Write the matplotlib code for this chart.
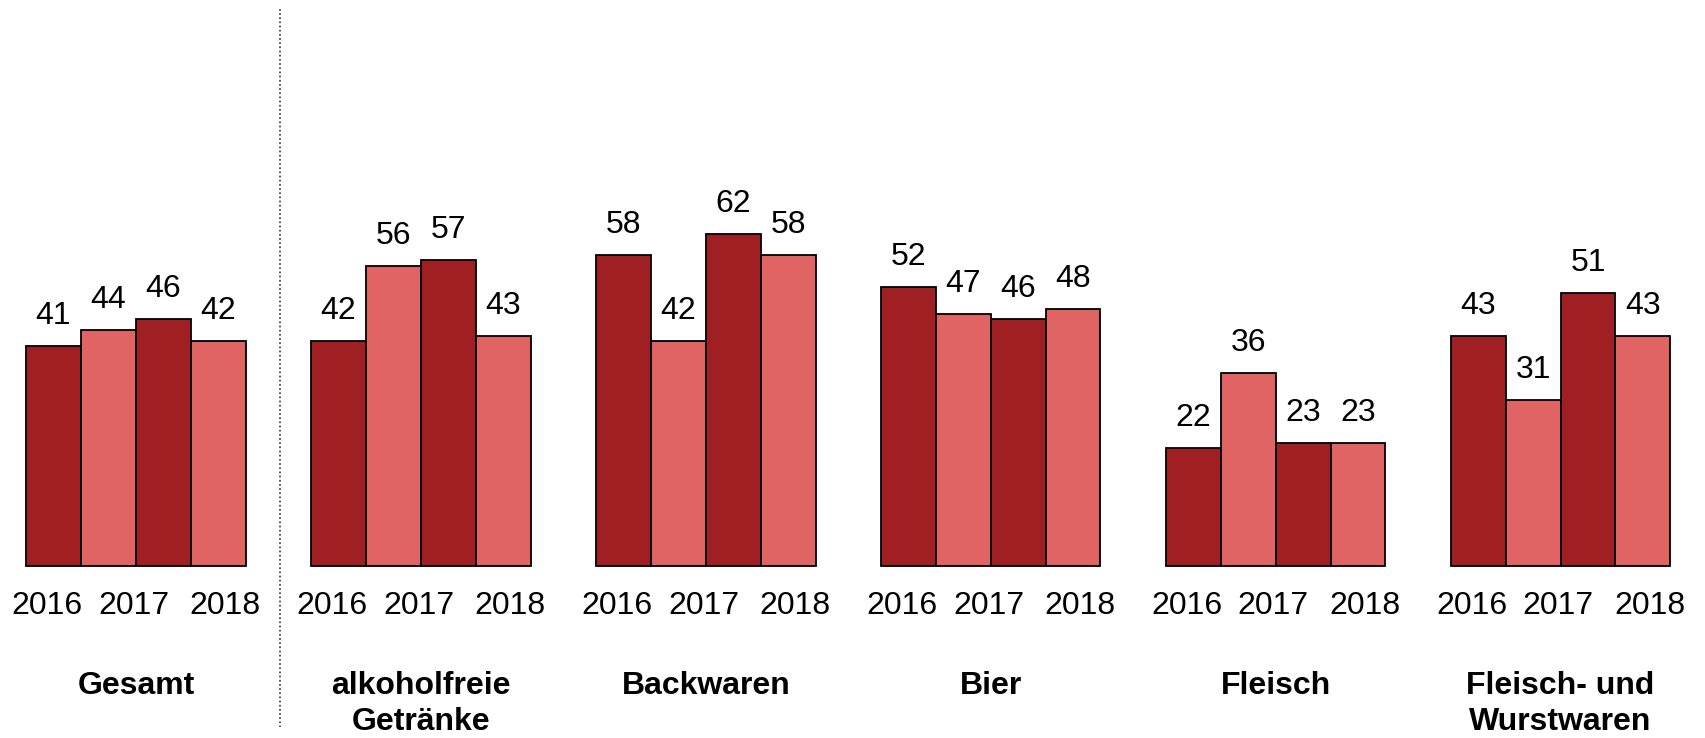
import numpy as np
import matplotlib
matplotlib.use("Agg")
import matplotlib.pyplot as plt

# Data
CATEGORIES = ["Gesamt", "alkoholfreie\nGetränke", "Backwaren", "Bier", "Fleisch",
              "Fleisch- und\nWurstwaren"]
VALUES = [
    [41, 44, 46, 42],
    [42, 56, 57, 43],
    [58, 42, 62, 58],
    [52, 47, 46, 48],
    [22, 36, 23, 23],
    [43, 31, 51, 43],
]
YEAR_LABELS = ["2016", "2017", "2018"]

DARK = "#A01F22"
LIGHT = "#E06464"
BAR_COLORS = [DARK, LIGHT, DARK, LIGHT]

# Layout (units: one bar width)
GROUP_STEP = 5.19
YEAR_POS = [-0.12, 1.46, 3.12]
PX_PER_UNIT = 54.9
PX_PER_VAL = 5.36
W, H = 1706, 738
BASE_PX = 566  # baseline from top
FS = 23

plt.rcParams['font.family'] = ['Liberation Sans', 'DejaVu Sans']

fig = plt.figure(figsize=(W / 100, H / 100), dpi=100)
ax = fig.add_axes([0, 0, 1, 1])
ax.axis('off')

x0 = -0.5 - 26.1 / PX_PER_UNIT
ax.set_xlim(x0, x0 + W / PX_PER_UNIT)
y0 = -(H - BASE_PX) / PX_PER_VAL
ax.set_ylim(y0, y0 + H / PX_PER_VAL)


def py(px_from_top):
    return (BASE_PX - px_from_top) / PX_PER_VAL


for g, (cat, vals) in enumerate(zip(CATEGORIES, VALUES)):
    xs = g * GROUP_STEP + np.arange(len(vals))
    ax.bar(xs, vals, width=1.0, color=BAR_COLORS, edgecolor='black', linewidth=1.3)
    for x, v in zip(xs, vals):
        ax.text(x, v + 30 / PX_PER_VAL, f"{v}", ha='center', va='center', fontsize=FS)
    for yl, pos in zip(YEAR_LABELS, YEAR_POS):
        ax.text(g * GROUP_STEP + pos, py(606), yl, ha='center', va='center', fontsize=FS)
    for i, line in enumerate(cat.split("\n")):
        ax.text(g * GROUP_STEP + 1.5, py(685.5 + 36 * i), line, ha='center', va='center',
                fontsize=FS, fontweight='bold')

# dotted separator between Gesamt and the categories
sep_x = x0 + 280 / PX_PER_UNIT
ax.plot([sep_x, sep_x], [py(9), py(727)], color='#333333', linestyle=(0, (1, 1.5)),
        linewidth=1.2)

fig.savefig("out.png", dpi=100)
